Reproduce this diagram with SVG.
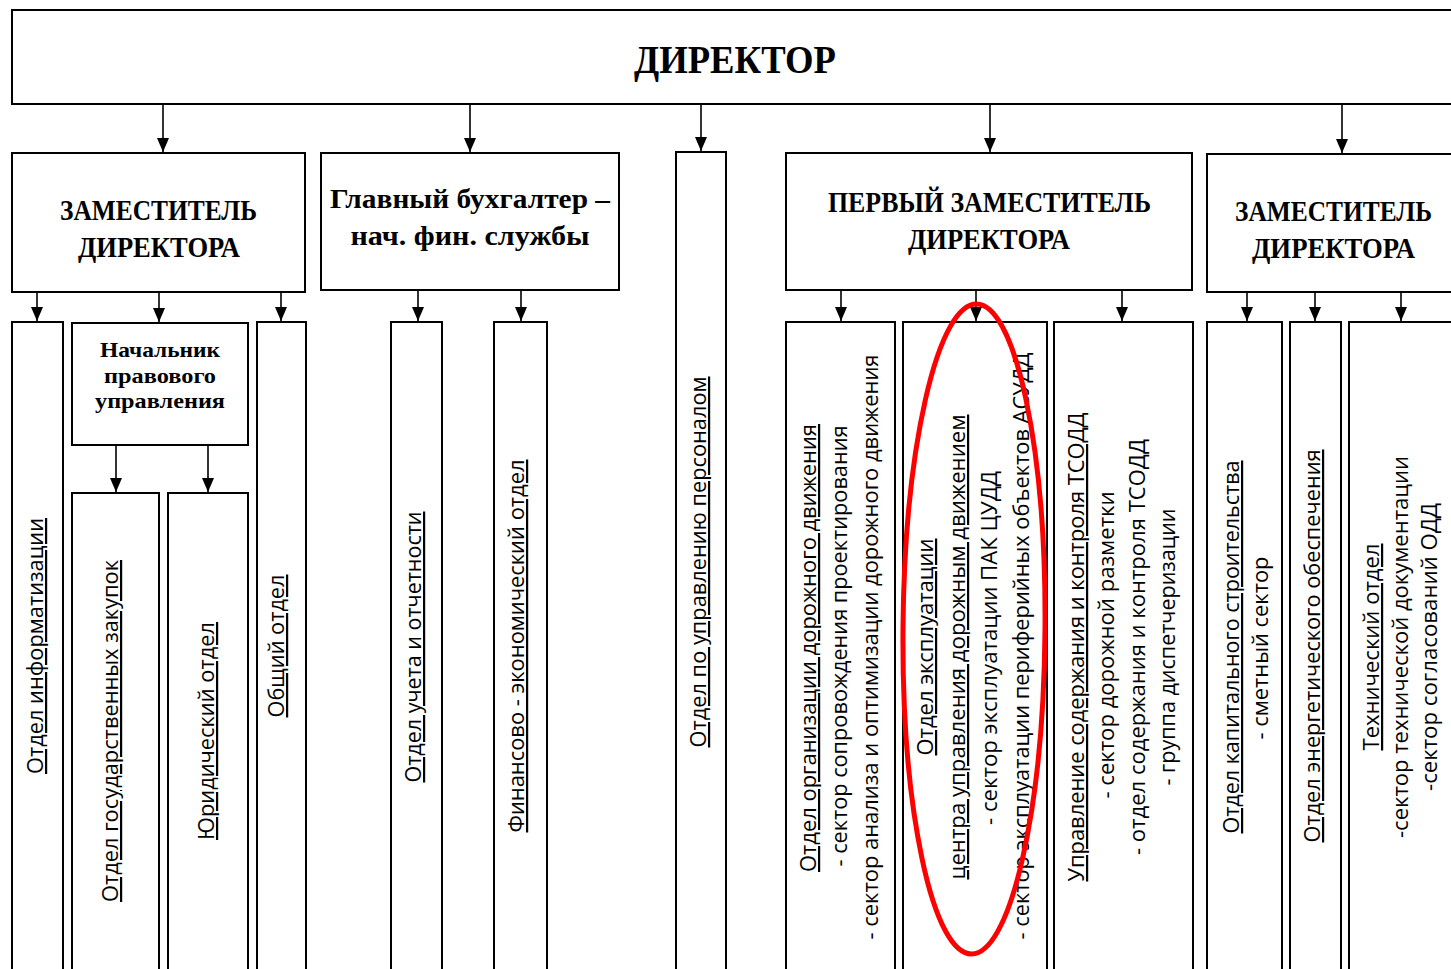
<svg xmlns="http://www.w3.org/2000/svg" width="1451" height="969" viewBox="0 0 1451 969">
<style>
.box{fill:#fff;stroke:#000;stroke-width:2}
.con{stroke:#000;stroke-width:1.6;fill:none;marker-end:url(#ah)}
.h{font-family:"Liberation Serif","DejaVu Serif",serif;font-weight:bold;text-anchor:middle;fill:#000}
.v{font-family:"Open Sans","Noto Sans",sans-serif;font-size:22px;text-anchor:middle;fill:#000}
.u{text-decoration:underline}
</style>
<defs>
<marker id="ah" viewBox="0 0 14 12" refX="14" refY="6" markerWidth="14" markerHeight="12" markerUnits="userSpaceOnUse" orient="auto">
<path d="M0,0 L14,6 L0,12 z" fill="#000"/>
</marker>
</defs>
<rect width="1451" height="969" fill="#fff"/>

<g id="connectors">
<line class="con" x1="163" y1="104" x2="163" y2="152"/>
<line class="con" x1="470" y1="104" x2="470" y2="152"/>
<line class="con" x1="701" y1="104" x2="701" y2="151"/>
<line class="con" x1="990" y1="104" x2="990" y2="152"/>
<line class="con" x1="1342" y1="104" x2="1342" y2="153"/>
<line class="con" x1="37" y1="292" x2="37" y2="321"/>
<line class="con" x1="159" y1="292" x2="159" y2="322"/>
<line class="con" x1="281" y1="292" x2="281" y2="321"/>
<line class="con" x1="116" y1="445" x2="116" y2="492"/>
<line class="con" x1="208" y1="445" x2="208" y2="492"/>
<line class="con" x1="418" y1="290" x2="418" y2="321"/>
<line class="con" x1="521" y1="290" x2="521" y2="321"/>
<line class="con" x1="841" y1="290" x2="841" y2="321"/>
<line class="con" x1="976" y1="290" x2="976" y2="321"/>
<line class="con" x1="1122" y1="290" x2="1122" y2="321"/>
<line class="con" x1="1247" y1="292" x2="1247" y2="321"/>
<line class="con" x1="1315" y1="292" x2="1315" y2="321"/>
<line class="con" x1="1401" y1="292" x2="1401" y2="321"/>
</g>

<g id="director">
<rect class="box" x="12" y="10" width="1460" height="94"/>
<text class="h" x="735" y="73" font-size="39" textLength="202" lengthAdjust="spacingAndGlyphs">ДИРЕКТОР</text>
</g>

<g id="deputy1">
<rect class="box" x="12" y="153" width="293" height="139"/>
<text class="h" x="158.5" y="220" font-size="29" textLength="197" lengthAdjust="spacingAndGlyphs">ЗАМЕСТИТЕЛЬ</text>
<text class="h" x="159" y="257" font-size="29" textLength="162" lengthAdjust="spacingAndGlyphs">ДИРЕКТОРА</text>
</g>

<g id="chief-accountant">
<rect class="box" x="321" y="153" width="298" height="137"/>
<text class="h" x="470" y="208" font-size="27" textLength="280" lengthAdjust="spacingAndGlyphs">Главный бухгалтер –</text>
<text class="h" x="470" y="245" font-size="27" textLength="239" lengthAdjust="spacingAndGlyphs">нач. фин. службы</text>
</g>

<g id="hr-dept">
<rect class="box" x="676" y="152" width="50" height="830"/>
<text class="v u" transform="translate(706,562) rotate(-90)" textLength="371" lengthAdjust="spacingAndGlyphs">Отдел по управлению персоналом</text>
</g>

<g id="first-deputy">
<rect class="box" x="786" y="153" width="406" height="137"/>
<text class="h" x="989.5" y="212" font-size="29" textLength="323" lengthAdjust="spacingAndGlyphs">ПЕРВЫЙ ЗАМЕСТИТЕЛЬ</text>
<text class="h" x="989" y="249" font-size="29" textLength="162" lengthAdjust="spacingAndGlyphs">ДИРЕКТОРА</text>
</g>

<g id="deputy2">
<rect class="box" x="1207" y="154" width="260" height="138"/>
<text class="h" x="1333.5" y="221" font-size="29" textLength="197" lengthAdjust="spacingAndGlyphs">ЗАМЕСТИТЕЛЬ</text>
<text class="h" x="1333.5" y="258" font-size="29" textLength="163" lengthAdjust="spacingAndGlyphs">ДИРЕКТОРА</text>
</g>

<g id="it-dept">
<rect class="box" x="12" y="322" width="51" height="660"/>
<text class="v u" transform="translate(43,646) rotate(-90)" textLength="256" lengthAdjust="spacingAndGlyphs">Отдел информатизации</text>
</g>

<g id="legal-head">
<rect class="box" x="72" y="323" width="176" height="122"/>
<text class="h" x="160" y="357" font-size="22" textLength="120" lengthAdjust="spacingAndGlyphs">Начальник</text>
<text class="h" x="160" y="383" font-size="22" textLength="112" lengthAdjust="spacingAndGlyphs">правового</text>
<text class="h" x="160" y="408" font-size="22" textLength="130" lengthAdjust="spacingAndGlyphs">управления</text>
</g>

<g id="procurement">
<rect class="box" x="72" y="493" width="87" height="490"/>
<text class="v u" transform="translate(118,731) rotate(-90)" textLength="342" lengthAdjust="spacingAndGlyphs">Отдел государственных закупок</text>
</g>

<g id="legal-dept">
<rect class="box" x="168" y="493" width="80" height="490"/>
<text class="v u" transform="translate(214,731) rotate(-90)" textLength="218" lengthAdjust="spacingAndGlyphs">Юридический отдел</text>
</g>

<g id="general-dept">
<rect class="box" x="257" y="322" width="49" height="660"/>
<text class="v u" transform="translate(284,646) rotate(-90)" textLength="143" lengthAdjust="spacingAndGlyphs">Общий отдел</text>
</g>

<g id="accounting">
<rect class="box" x="391" y="322" width="51" height="660"/>
<text class="v u" transform="translate(421,647) rotate(-90)" textLength="271" lengthAdjust="spacingAndGlyphs">Отдел учета и отчетности</text>
</g>

<g id="finance">
<rect class="box" x="494" y="322" width="53" height="660"/>
<text class="v u" transform="translate(524,646) rotate(-90)" textLength="373" lengthAdjust="spacingAndGlyphs">Финансово - экономический отдел</text>
</g>

<g id="traffic-org">
<rect class="box" x="786" y="322" width="109" height="660"/>
<text class="v u" transform="translate(816,648) rotate(-90)" textLength="448" lengthAdjust="spacingAndGlyphs">Отдел организации дорожного движения</text>
<text class="v" transform="translate(847,646) rotate(-90)" textLength="441" lengthAdjust="spacingAndGlyphs">- сектор сопровождения проектирования</text>
<text class="v" transform="translate(878,647) rotate(-90)" textLength="585" lengthAdjust="spacingAndGlyphs">- сектор анализа и оптимизации дорожного движения</text>
</g>

<g id="operations">
<rect class="box" x="903" y="322" width="144" height="660"/>
<text class="v u" transform="translate(933,647) rotate(-90)" textLength="217" lengthAdjust="spacingAndGlyphs">Отдел эксплуатации</text>
<text class="v u" transform="translate(965,647) rotate(-90)" textLength="465" lengthAdjust="spacingAndGlyphs">центра управления дорожным движением</text>
<text class="v" transform="translate(997,648) rotate(-90)" textLength="354" lengthAdjust="spacingAndGlyphs">- сектор эксплуатации ПАК ЦУДД</text>
<text class="v" transform="translate(1029,646) rotate(-90)" textLength="587" lengthAdjust="spacingAndGlyphs">- сектор эксплуатации периферийных объектов АСУДД</text>
</g>

<g id="tsodd">
<rect class="box" x="1054" y="322" width="139" height="660"/>
<text class="v u" transform="translate(1084,647) rotate(-90)" textLength="469" lengthAdjust="spacingAndGlyphs">Управление содержания и контроля ТСОДД</text>
<text class="v" transform="translate(1114,645) rotate(-90)" textLength="307" lengthAdjust="spacingAndGlyphs">- сектор дорожной разметки</text>
<text class="v" transform="translate(1145,647) rotate(-90)" textLength="416" lengthAdjust="spacingAndGlyphs">- отдел содержания и контроля ТСОДД</text>
<text class="v" transform="translate(1175,647) rotate(-90)" textLength="277" lengthAdjust="spacingAndGlyphs">- группа диспетчеризации</text>
</g>

<g id="construction">
<rect class="box" x="1207" y="322" width="75" height="660"/>
<text class="v u" transform="translate(1239,647) rotate(-90)" textLength="373" lengthAdjust="spacingAndGlyphs">Отдел капитального строительства</text>
<text class="v" transform="translate(1268,648) rotate(-90)" textLength="183" lengthAdjust="spacingAndGlyphs">- сметный сектор</text>
</g>

<g id="energy">
<rect class="box" x="1290" y="322" width="51" height="660"/>
<text class="v u" transform="translate(1320,646) rotate(-90)" textLength="393" lengthAdjust="spacingAndGlyphs">Отдел энергетического обеспечения</text>
</g>

<g id="technical">
<rect class="box" x="1349" y="322" width="120" height="660"/>
<text class="v u" transform="translate(1379,647) rotate(-90)" textLength="207" lengthAdjust="spacingAndGlyphs">Технический отдел</text>
<text class="v" transform="translate(1408,647) rotate(-90)" textLength="382" lengthAdjust="spacingAndGlyphs">-сектор технической документации</text>
<text class="v" transform="translate(1437,647) rotate(-90)" textLength="288" lengthAdjust="spacingAndGlyphs">-сектор согласований ОДД</text>
</g>

<g id="highlight">
<ellipse cx="974" cy="629" rx="71" ry="325" transform="rotate(0.45 974 629)" fill="none" stroke="#ff0000" stroke-width="5"/>
</g>
</svg>
